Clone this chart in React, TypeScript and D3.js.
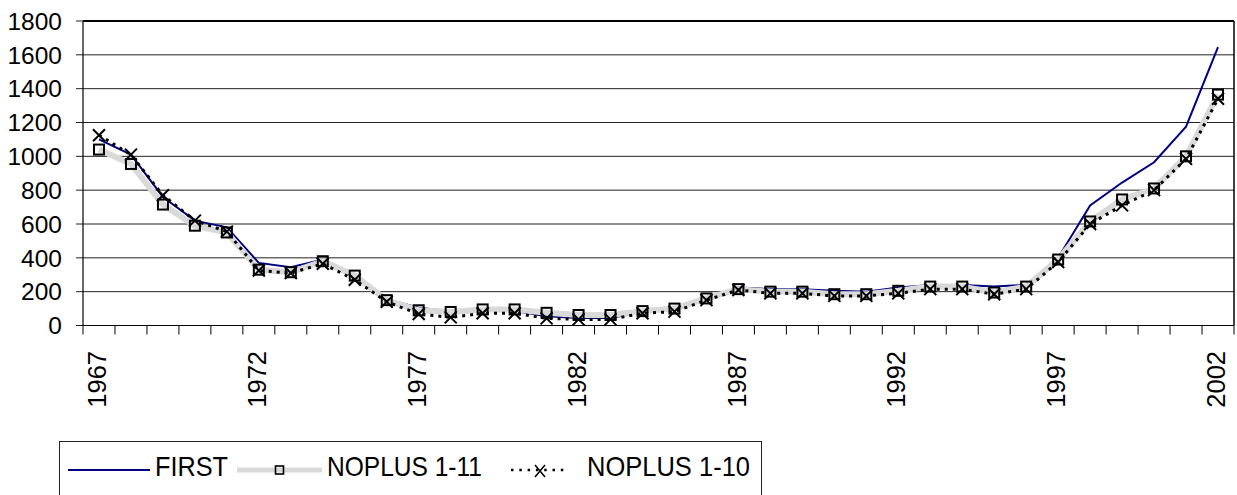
import React from "react";
import * as d3 from "d3";

const years = [
  1967, 1968, 1969, 1970, 1971, 1972, 1973, 1974, 1975, 1976,
  1977, 1978, 1979, 1980, 1981, 1982, 1983, 1984, 1985, 1986,
  1987, 1988, 1989, 1990, 1991, 1992, 1993, 1994, 1995, 1996,
  1997, 1998, 1999, 2000, 2001, 2002,
];
const first = [
  1100, 1010, 760, 620, 580, 370, 345, 390, 295, 155,
  105, 85, 90, 85, 55, 45, 45, 80, 100, 165,
  225, 215, 215, 205, 200, 225, 240, 240, 230, 240,
  400, 710, 845, 965, 1175, 1645,
];
const noplus111 = [
  1040, 955, 715, 590, 550, 330, 315, 380, 295, 150,
  90, 80, 95, 95, 75, 62, 62, 85, 100, 160,
  215, 200, 200, 185, 185, 205, 230, 230, 195, 230,
  390, 615, 745, 810, 1000, 1365,
];
const noplus110 = [
  1125, 1010, 770, 620, 555, 325, 310, 365, 270, 140,
  68, 48, 72, 72, 42, 36, 36, 72, 82, 150,
  210, 190, 190, 175, 175, 190, 215, 215, 185, 215,
  375, 600, 710, 800, 985, 1340,
];
const yTicks = [0, 200, 400, 600, 800, 1000, 1200, 1400, 1600, 1800];
const xLabelYears = [1967, 1972, 1977, 1982, 1987, 1992, 1997, 2002];
const legendNames = ["FIRST", "NOPLUS 1-11", "NOPLUS 1-10"];

const W = 1237;
const H = 495;
const left = 83;
const right = 1234;
const top = 21;
const bottom = 325.5;
const FONT = "'Liberation Sans', Arial, sans-serif";
const BLUE = "#000080";
const GRAY = "#d9d9d9";

export default function App() {
  const x = d3.scaleBand<number>().domain(years).range([left, right]).padding(0);
  const cx = (yr: number) => (x(yr) as number) + x.bandwidth() / 2;
  const y = d3.scaleLinear().domain([0, 1800]).range([bottom, top]);

  const lineOf = (vals: number[]) =>
    d3
      .line<number>()
      .x((_, i) => cx(years[i]))
      .y((v) => y(v))(vals) as string;

  const boundaries = years.map((yr) => x(yr) as number).concat([right]);

  const sq = 5;
  const xm = 6;

  return (
    <svg
      width={W}
      height={H}
      style={{ position: "absolute", left: 0, top: 0, background: "#fff" }}
      fontFamily={FONT}
    >
      <rect x={0} y={0} width={W} height={H} fill="#fff" />
      {/* gridlines */}
      {yTicks.map((t) => (
        <line key={"g" + t} x1={left - 7} x2={right} y1={y(t)} y2={y(t)} stroke="#222" strokeWidth={1} />
      ))}
      {/* plot border */}
      <line x1={left} x2={right} y1={top} y2={top} stroke="#000" strokeWidth={2} />
      <line x1={right} x2={right} y1={top} y2={bottom} stroke="#000" strokeWidth={1.5} />
      <line x1={left} x2={left} y1={top} y2={bottom} stroke="#000" strokeWidth={1.2} />
      <line x1={left} x2={right} y1={bottom} y2={bottom} stroke="#000" strokeWidth={1.2} />
      {/* x ticks */}
      {boundaries.map((b, i) => (
        <line key={"t" + i} x1={b} x2={b} y1={bottom} y2={bottom + 9} stroke="#000" strokeWidth={1} />
      ))}
      {/* y labels */}
      {yTicks.map((t) => (
        <text key={"yl" + t} x={62} y={y(t)} dy="0.36em" textAnchor="end" fontSize={24.5} fill="#000">
          {t}
        </text>
      ))}
      {/* x labels */}
      {xLabelYears.map((yr) => (
        <text
          key={"xl" + yr}
          transform={`translate(${cx(yr) - 2},351) rotate(-90)`}
          textAnchor="end"
          dy="0.36em"
          fontSize={25.5}
          fill="#000"
        >
          {yr}
        </text>
      ))}
      {/* FIRST */}
      <path d={lineOf(first)} fill="none" stroke={BLUE} strokeWidth={2} />
      {/* NOPLUS 1-11 */}
      <path d={lineOf(noplus111)} fill="none" stroke={GRAY} strokeWidth={6} strokeLinejoin="round" />
      {noplus111.map((v, i) => (
        <rect
          key={"s" + i}
          x={cx(years[i]) - sq}
          y={y(v) - sq}
          width={sq * 2}
          height={sq * 2}
          fill="none"
          stroke="#000"
          strokeWidth={2}
        />
      ))}
      {/* NOPLUS 1-10 */}
      <path d={lineOf(noplus110)} fill="none" stroke="#000" strokeWidth={3} strokeDasharray="3,5" />
      {noplus110.map((v, i) => {
        const px = cx(years[i]);
        const py = y(v);
        return (
          <path
            key={"x" + i}
            d={`M${px - xm},${py - xm}L${px + xm},${py + xm}M${px - xm},${py + xm}L${px + xm},${py - xm}`}
            stroke="#000"
            strokeWidth={2}
            fill="none"
          />
        );
      })}
      {/* legend */}
      <rect x={59.5} y={441.5} width={702} height={80} fill="#fff" stroke="#222" strokeWidth={1} />
      <line x1={68} x2={150} y1={470} y2={470} stroke={BLUE} strokeWidth={2} />
      <text x={155} y={476} fontSize={28.5} textLength={73} lengthAdjust="spacingAndGlyphs" fill="#000">
        {legendNames[0]}
      </text>
      <line x1={237} x2={322} y1={470} y2={470} stroke={GRAY} strokeWidth={5} />
      <rect x={275.5} y={466} width={8} height={8} fill="none" stroke="#000" strokeWidth={1.6} />
      <text x={327} y={476} fontSize={28.5} textLength={155} lengthAdjust="spacingAndGlyphs" fill="#000">
        {legendNames[1]}
      </text>
      <line x1={511} x2={568} y1={470} y2={470} stroke="#000" strokeWidth={2.5} strokeDasharray="2.5,5.8" />
      <path d="M535,465L545,477M535,477L545,465" stroke="#000" strokeWidth={1.5} fill="none" />
      <text x={587} y={476} fontSize={28.5} textLength={163} lengthAdjust="spacingAndGlyphs" fill="#000">
        {legendNames[2]}
      </text>
    </svg>
  );
}
